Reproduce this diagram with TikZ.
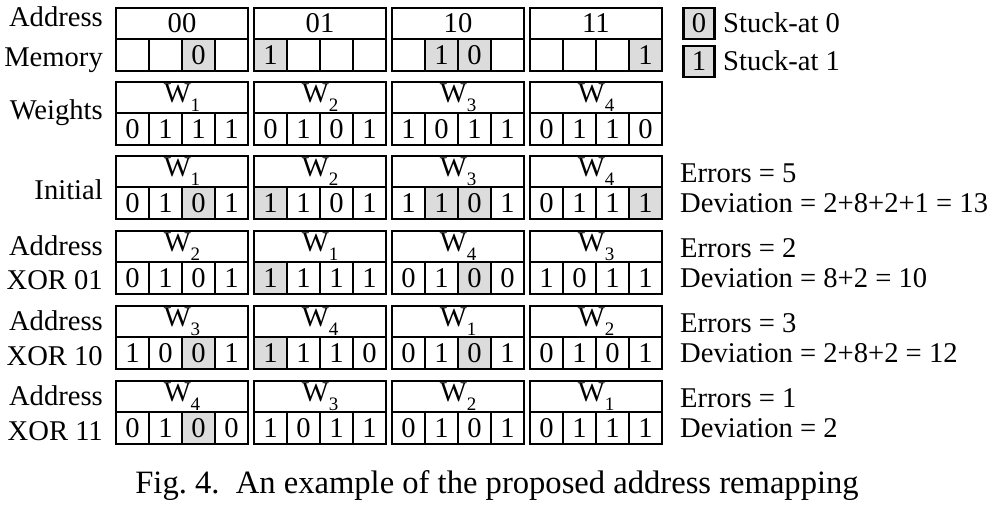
\documentclass[tikz,border=0pt]{standalone}
\usepackage{fontspec}
\setmainfont{Liberation Serif}
\definecolor{errgray}{RGB}{220,220,220}
\newcommand{\mainsize}{\fontsize{28.6}{30}\selectfont}
\newcommand{\Wsub}[1]{W\raisebox{-9pt}{\fontsize{19}{19}\selectfont #1}}
\tikzset{
  lw/.style={line width=2.5pt},
  hdr/.style={draw, lw, minimum width=132pt, minimum height=31pt, inner sep=0pt, font=\mainsize},
  cellbox/.style={draw, lw, minimum width=33pt, minimum height=32pt, inner sep=0pt, font=\mainsize},
  legbox/.style={draw, lw, fill=errgray, minimum width=31pt, minimum height=31pt, inner sep=0pt, font=\mainsize},
  plain/.style={},
  err/.style={fill=errgray},
  lbl/.style={anchor=base east, inner sep=0pt, font=\mainsize},
  note/.style={anchor=base west, inner sep=0pt, font=\mainsize},
}
\newcommand{\wblock}[5]{%
  \node[hdr] (#1h) at ({#2+66},{#3+15.5}) {#4};
  \foreach \v/\s [count=\j] in {#5} {
    \node[cellbox,\s] (#1c\j) at ({#2+16.5+33*(\j-1)},{#3+47}) {\v};
  }
}
\begin{document}
\begin{tikzpicture}[x=1pt,y=-1pt]
\useasboundingbox (0,0) rectangle (994,506);
% Row 0: address / memory
\wblock{ma}{116}{8}{00}{{}/plain,{}/plain,0/err,{}/plain}
\wblock{mb}{254}{8}{01}{1/err,{}/plain,{}/plain,{}/plain}
\wblock{mc}{392}{8}{10}{{}/plain,1/err,0/err,{}/plain}
\wblock{md}{530}{8}{11}{{}/plain,{}/plain,{}/plain,1/err}
% Row 1: weights
\wblock{wa}{116}{82}{\Wsub{1}}{0/plain,1/plain,1/plain,1/plain}
\wblock{wb}{254}{82}{\Wsub{2}}{0/plain,1/plain,0/plain,1/plain}
\wblock{wc}{392}{82}{\Wsub{3}}{1/plain,0/plain,1/plain,1/plain}
\wblock{wd}{530}{82}{\Wsub{4}}{0/plain,1/plain,1/plain,0/plain}
% Row 2: initial
\wblock{ia}{116}{156}{\Wsub{1}}{0/plain,1/plain,0/err,1/plain}
\wblock{ib}{254}{156}{\Wsub{2}}{1/err,1/plain,0/plain,1/plain}
\wblock{ic}{392}{156}{\Wsub{3}}{1/plain,1/err,0/err,1/plain}
\wblock{id}{530}{156}{\Wsub{4}}{0/plain,1/plain,1/plain,1/err}
% Row 3: XOR 01
\wblock{xa}{116}{231}{\Wsub{2}}{0/plain,1/plain,0/plain,1/plain}
\wblock{xb}{254}{231}{\Wsub{1}}{1/err,1/plain,1/plain,1/plain}
\wblock{xc}{392}{231}{\Wsub{4}}{0/plain,1/plain,0/err,0/plain}
\wblock{xd}{530}{231}{\Wsub{3}}{1/plain,0/plain,1/plain,1/plain}
% Row 4: XOR 10
\wblock{ya}{116}{306}{\Wsub{3}}{1/plain,0/plain,0/err,1/plain}
\wblock{yb}{254}{306}{\Wsub{4}}{1/err,1/plain,1/plain,0/plain}
\wblock{yc}{392}{306}{\Wsub{1}}{0/plain,1/plain,0/err,1/plain}
\wblock{yd}{530}{306}{\Wsub{2}}{0/plain,1/plain,0/plain,1/plain}
% Row 5: XOR 11
\wblock{za}{116}{381}{\Wsub{4}}{0/plain,1/plain,0/err,0/plain}
\wblock{zb}{254}{381}{\Wsub{3}}{1/plain,0/plain,1/plain,1/plain}
\wblock{zc}{392}{381}{\Wsub{2}}{0/plain,1/plain,0/plain,1/plain}
\wblock{zd}{530}{381}{\Wsub{1}}{0/plain,1/plain,1/plain,1/plain}
% Row labels
\node[lbl] (l0a) at (103,26) {Address};
\node[lbl] (l0b) at (103,66) {Memory};
\node[lbl] (l1) at (103,119) {Weights};
\node[lbl] (l2) at (103,199) {Initial};
\node[lbl] (l3a) at (103,255) {Address};
\node[lbl] (l3b) at (103,289) {XOR 01};
\node[lbl] (l4a) at (103,330) {Address};
\node[lbl] (l4b) at (103,365) {XOR 10};
\node[lbl] (l5a) at (103,405) {Address};
\node[lbl] (l5b) at (103,440) {XOR 11};
% Legend
\node[legbox] (lg0) at (699,23.5) {0};
\node[note] (lg0t) at (723,32) {Stuck-at 0};
\node[legbox] (lg1) at (699,61.5) {1};
\node[note] (lg1t) at (723,70) {Stuck-at 1};
% Results
\node[note] (e2) at (680,182) {Errors = 5};
\node[note] (d2) at (680,212) {Deviation = 2+8+2+1 = 13};
\node[note] (e3) at (680,257) {Errors = 2};
\node[note] (d3) at (680,287) {Deviation = 8+2 = 10};
\node[note] (e4) at (680,332) {Errors = 3};
\node[note] (d4) at (680,362) {Deviation = 2+8+2 = 12};
\node[note] (e5) at (680,407) {Errors = 1};
\node[note] (d5) at (680,437) {Deviation = 2};
% Caption
\node[anchor=base, inner sep=0pt, font=\fontsize{32.6}{34}\selectfont] (cap) at (497,493) {Fig.~4.\ \ An example of the proposed address remapping};
\end{tikzpicture}
\end{document}
